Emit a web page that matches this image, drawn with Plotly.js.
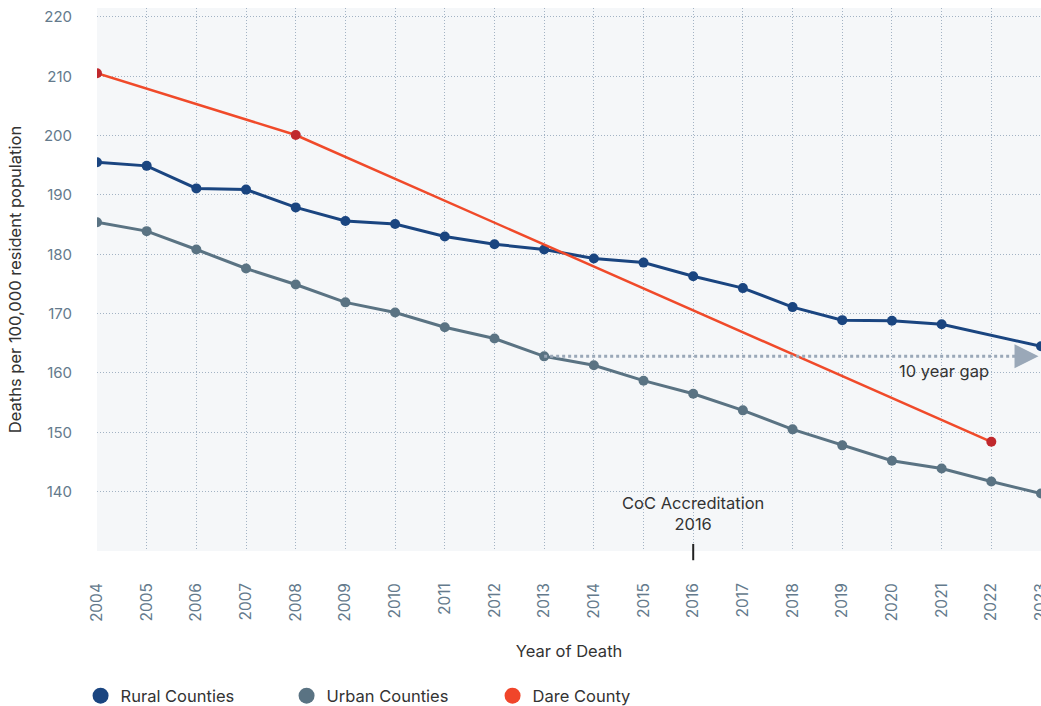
<!DOCTYPE html>
<html>
<head>
<meta charset="utf-8">
<script src="https://cdn.plot.ly/plotly-3.0.1.min.js"></script>
<style>html,body{margin:0;padding:0;background:#fff;}#chart{width:1041px;height:706px;}</style>
</head>
<body>
<div id="chart"></div>
<script>
const years = [2004,2005,2006,2007,2008,2009,2010,2011,2012,2013,2014,2015,2016,2017,2018,2019,2020,2021,2022,2023];
const ruralYears = [2004,2005,2006,2007,2008,2009,2010,2011,2012,2013,2014,2015,2016,2017,2018,2019,2020,2021,2023];
const ruralValues = [195.5,194.9,191.1,190.9,187.9,185.6,185.1,183.0,181.7,180.8,179.3,178.6,176.3,174.3,171.1,168.9,168.8,168.2,164.5];
const urbanValues = [185.4,183.9,180.8,177.6,174.9,171.9,170.2,167.7,165.8,162.8,161.3,158.7,156.5,153.7,150.5,147.8,145.2,143.9,141.7,139.7];
const dareYears = [2004,2008,2022];
const dareValues = [210.5,200.1,148.4];
const tickYears = years;
const yTicks = [140,150,160,170,180,190,200,210,220];
const gapStart = {year: 2013, value: 162.8};
const gapEndYear = 2023;
const accreditationYear = 2016;

const FONT = 'Inter, Lato, "Open Sans", sans-serif';
const RURAL = '#1a4580';
const URBAN = '#5a7383';
const DARE_LINE = '#f04a2a';
const DARE_MARK = '#c0282d';
const TEXT = 16.5;

const traces = [
  {x: years, y: urbanValues, mode: 'lines+markers', name: 'Urban Counties', showlegend: false,
   line: {color: URBAN, width: 3}, marker: {color: URBAN, size: 10}},
  {x: ruralYears, y: ruralValues, mode: 'lines+markers', name: 'Rural Counties', showlegend: false,
   line: {color: RURAL, width: 3}, marker: {color: RURAL, size: 10}},
  {x: dareYears, y: dareValues, mode: 'lines+markers', name: 'Dare County', showlegend: false,
   line: {color: DARE_LINE, width: 2.5}, marker: {color: DARE_MARK, size: 10}},
  {x: [null], y: [null], mode: 'markers', name: 'Rural Counties', marker: {color: RURAL, size: 16}},
  {x: [null], y: [null], mode: 'markers', name: 'Urban Counties', marker: {color: URBAN, size: 16}},
  {x: [null], y: [null], mode: 'markers', name: 'Dare County', marker: {color: '#f0452a', size: 16}}
];

const layout = {
  width: 1041, height: 706,
  margin: {l: 97, r: 0, t: 8, b: 155},
  paper_bgcolor: '#ffffff',
  plot_bgcolor: '#f5f7f9',
  font: {family: FONT, size: 15, color: '#333'},
  xaxis: {
    range: [2004, 2023], tickvals: tickYears, ticktext: tickYears.map(String),
    tickangle: -90, showgrid: true, gridcolor: '#a3b3c4', griddash: '1px,2px', gridwidth: 1,
    zeroline: false, showline: false, ticks: '', ticklabelstandoff: 28, automargin: false,
    ticklabeloverflow: 'allow',
    tickfont: {family: FONT, size: 15.5, color: '#647a8c'},
    title: {text: 'Year of Death', font: {family: FONT, size: TEXT, color: '#333'}, standoff: 24}
  },
  yaxis: {
    range: [130, 221.5], tickvals: yTicks,
    showgrid: true, gridcolor: '#a3b3c4', griddash: '1px,2px', gridwidth: 1,
    zeroline: false, showline: false, ticks: '', ticklabelstandoff: 24, automargin: false,
    tickfont: {family: FONT, size: 15, color: '#647a8c'},
    title: {text: 'Deaths per 100,000 resident population', font: {family: FONT, size: TEXT, color: '#333'}, standoff: 18}
  },
  showlegend: true,
  legend: {orientation: 'h', x: 0.0774, xanchor: 'left', xref: 'container', yref: 'container', y: 0.0142, yanchor: 'middle',
           font: {family: FONT, size: TEXT, color: '#333'}, entrywidth: 161, entrywidthmode: 'pixels',
           itemsizing: 'trace', bgcolor: 'rgba(0,0,0,0)'},
  shapes: [
    {type: 'line', xref: 'x', yref: 'y', x0: gapStart.year, x1: gapEndYear - 0.35, y0: gapStart.value, y1: gapStart.value,
     line: {color: '#9aa8b8', width: 3, dash: 'dot'}},
    {type: 'line', xref: 'x', yref: 'paper', x0: accreditationYear, x1: accreditationYear, y0: 0.013, y1: -0.017,
     line: {color: '#222', width: 2}}
  ],
  annotations: [
    {x: gapEndYear - 0.05, y: gapStart.value, xref: 'x', yref: 'y', ax: gapEndYear - 0.45, ay: gapStart.value,
     axref: 'x', ayref: 'y', showarrow: true, arrowhead: 2, arrowsize: 1.6, arrowwidth: 3, arrowcolor: '#9aa8b8', text: ''},
    {x: 2021.05, y: gapStart.value, xref: 'x', yref: 'y', yshift: -15, text: '10 year gap', showarrow: false,
     font: {family: FONT, size: TEXT, color: '#333'}},
    {x: accreditationYear, y: 136.3, xref: 'x', yref: 'y', text: 'CoC Accreditation<br>2016', showarrow: false,
     font: {family: FONT, size: TEXT, color: '#333'}, align: 'center'}
  ]
};

Plotly.newPlot('chart', traces, layout, {displayModeBar: false, responsive: false});
</script>
</body>
</html>
